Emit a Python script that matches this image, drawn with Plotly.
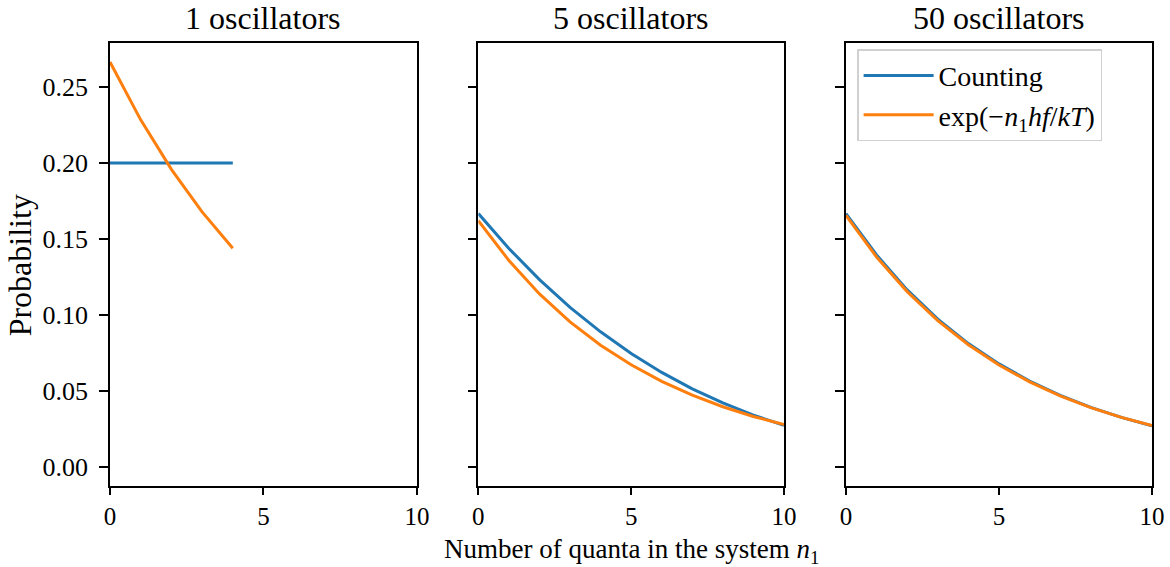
import plotly.graph_objects as go
from plotly.subplots import make_subplots

# ---- data ----
titles = ["1 oscillators", "5 oscillators", "50 oscillators"]

n_1 = [0, 1, 2, 3, 4]
count_1 = [0.200, 0.200, 0.200, 0.200, 0.200]
exp_1 = [0.2665, 0.2284, 0.1958, 0.1678, 0.1438]

n_5 = [0, 1, 2, 3, 4, 5, 6, 7, 8, 9, 10]
count_5 = [0.1667, 0.1437, 0.1232, 0.1049, 0.0888, 0.0746, 0.0621, 0.0513, 0.0420, 0.0340, 0.0272]
exp_5 = [0.1620, 0.1358, 0.1138, 0.0954, 0.0800, 0.0671, 0.0562, 0.0471, 0.0395, 0.0331, 0.0278]

n_50 = [0, 1, 2, 3, 4, 5, 6, 7, 8, 9, 10]
count_50 = [0.1667, 0.1394, 0.1164, 0.0972, 0.0811, 0.0677, 0.0564, 0.0470, 0.0391, 0.0325, 0.0270]
exp_50 = [0.1655, 0.1381, 0.1153, 0.0962, 0.0803, 0.0670, 0.0559, 0.0466, 0.0389, 0.0325, 0.0271]

y_ticks = [0.00, 0.05, 0.10, 0.15, 0.20, 0.25]
x_ticks = [0, 5, 10]

series_names = ["Counting", "exp(\u2212<i>n</i><sub>1</sub><i>hf</i>/<i>kT</i>)"]
BLUE = "#1f77b4"
ORANGE = "#ff7f0e"
FONT = "Liberation Serif"

panels = [(n_1, count_1, exp_1), (n_5, count_5, exp_5), (n_50, count_50, exp_50)]

fig = make_subplots(rows=1, cols=3, shared_yaxes=False, horizontal_spacing=0.05)

for i, (n, c, e) in enumerate(panels):
    fig.add_trace(go.Scatter(x=n, y=c, mode="lines", name=series_names[0],
                             line=dict(color=BLUE, width=3),
                             showlegend=(i == 2), legendrank=1), row=1, col=i + 1)
    fig.add_trace(go.Scatter(x=n, y=e, mode="lines", name=series_names[1],
                             line=dict(color=ORANGE, width=3),
                             showlegend=(i == 2), legendrank=2), row=1, col=i + 1)

domains = [[0.0, 0.2946], [0.3535, 0.6468], [0.7063, 1.0]]
yrange = [-0.0127, 0.279]

for i in range(3):
    xa = "xaxis" if i == 0 else f"xaxis{i+1}"
    ya = "yaxis" if i == 0 else f"yaxis{i+1}"
    fig.layout[xa].update(
        domain=domains[i], range=[0, 10], tickvals=x_ticks,
        ticks="outside", ticklen=7, tickwidth=1.5, tickcolor="black",
        showline=True, linecolor="black", linewidth=1.6, mirror=True,
        showgrid=False, zeroline=False, automargin=False,
        tickfont=dict(family=FONT, size=25, color="black"),
    )
    fig.layout[ya].update(
        range=yrange, tickvals=y_ticks, tickformat=".2f",
        showticklabels=(i == 0),
        ticks="outside", ticklen=9, tickwidth=1.5, tickcolor="black",
        showline=True, linecolor="black", linewidth=1.6, mirror=True,
        showgrid=False, zeroline=False, automargin=False,
        ticklabelstandoff=6,
        tickfont=dict(family=FONT, size=26, color="black"),
    )

annotations = []
for i, t in enumerate(titles):
    cx = (domains[i][0] + domains[i][1]) / 2
    annotations.append(dict(text=t, x=cx, y=1.056, xref="paper", yref="paper",
                            xanchor="center", yanchor="middle", showarrow=False,
                            font=dict(family=FONT, size=32, color="black")))
annotations.append(dict(text="Number of quanta in the system <i>n</i><sub>1</sub>",
                        x=(domains[1][0] + domains[1][1]) / 2, y=-0.147,
                        xref="paper", yref="paper", xanchor="center", yanchor="middle",
                        showarrow=False, font=dict(family=FONT, size=27, color="black")))
annotations.append(dict(text="Probability", x=-0.086, y=0.499, xref="paper", yref="paper",
                        xanchor="center", yanchor="middle", textangle=-90, showarrow=False,
                        font=dict(family=FONT, size=32, color="black")))

fig.update_layout(
    width=1170, height=567,
    margin=dict(l=110, r=18, t=43, b=81, autoexpand=False),
    plot_bgcolor="white", paper_bgcolor="white",
    annotations=annotations,
    legend=dict(x=0.717, y=0.986, xanchor="left", yanchor="top",
                bgcolor="white", bordercolor="#d0d0d0", borderwidth=1.5,
                font=dict(family=FONT, size=28, color="black"),
                tracegroupgap=0, itemwidth=70),
    showlegend=True,
)

# remove the page's default body margin so the figure sits at the top-left corner
fig.write_html("out.html",
               config={"displayModeBar": False},
               post_script="document.body.style.margin='0';document.body.style.overflow='hidden';")
